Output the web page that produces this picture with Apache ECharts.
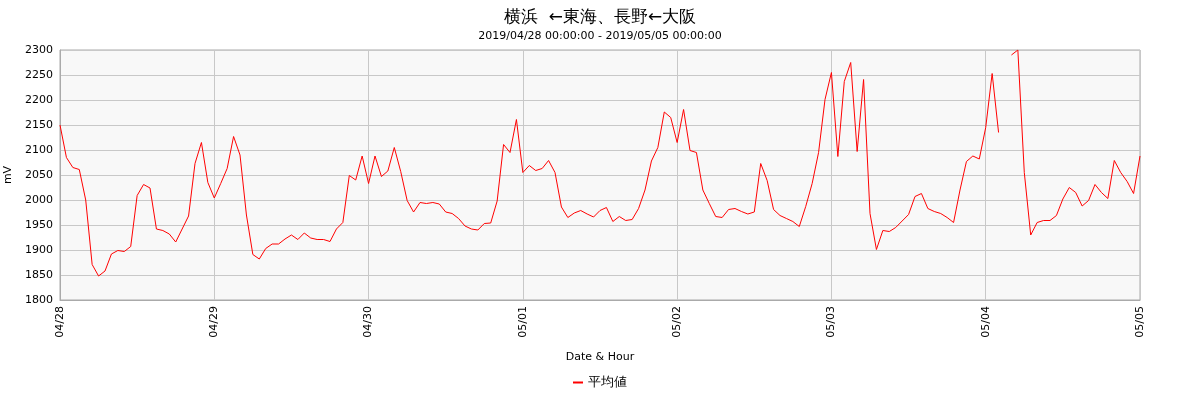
<!DOCTYPE html>
<html><head><meta charset="utf-8">
<script src="https://cdn.jsdelivr.net/npm/echarts@6/dist/echarts.min.js"></script>
<style>html,body{margin:0;padding:0;background:#fff}#c{width:1200px;height:400px}</style>
</head><body><div id="c"></div>
<script>
const days = ['04/28','04/29','04/30','05/01','05/02','05/03','05/04','05/05'];
const yTicks = [1800,1850,1900,1950,2000,2050,2100,2150,2200,2250,2300];
const d0428 = [2150,2085,2065,2061,2000,1871,1848,1858,1892,1899,1897,1907,2009,2031,2024,1942,1939,1932,1916,1942,1968,2073,2115,2035];
const d0429 = [2004,2033,2063,2127,2090,1970,1891,1882,1903,1912,1912,1922,1930,1921,1934,1924,1921,1921,1917,1942,1955,2049,2040,2088];
const d0430 = [2033,2088,2047,2058,2105,2057,1999,1976,1995,1993,1995,1992,1976,1973,1963,1948,1942,1940,1953,1954,1998,2111,2095,2161];
const d0501 = [2055,2069,2059,2063,2079,2055,1986,1965,1974,1979,1972,1966,1979,1985,1957,1967,1959,1961,1983,2020,2078,2105,2176,2165];
const d0502 = [2115,2181,2099,2095,2020,1993,1967,1965,1981,1983,1977,1972,1976,2073,2039,1981,1969,1963,1957,1947,1987,2033,2095,2201];
const d0503 = [2255,2087,2237,2275,2097,2241,1973,1901,1939,1937,1945,1958,1971,2007,2013,1983,1977,1973,1965,1955,2020,2077,2088,2082];
const d0504 = [2145,2253,2135,null,2290,2300,2055,1930,1955,1959,1959,1969,2002,2025,2015,1988,1999,2031,2015,2003,2079,2055,2037,2013];
const d0505 = [2088];
const dayData = [d0428,d0429,d0430,d0501,d0502,d0503,d0504,d0505];

const categories = [];
const values = [];
dayData.forEach((arr, di) => {
  arr.forEach((v, h) => {
    categories.push(days[di] + ' ' + String(h).padStart(2,'0'));
    values.push(v);
  });
});

const font = 'DejaVu Sans';
const chart = echarts.init(document.getElementById('c'));
chart.setOption({
  animation: false,
  backgroundColor: '#fff',
  title: {
    text: '横浜  ←東海、長野←大阪',
    subtext: '2019/04/28 00:00:00 - 2019/05/05 00:00:00',
    left: 'center', top: 4, itemGap: 5,
    textStyle: {fontFamily: font, fontSize: 17, fontWeight: 'normal', color: '#000'},
    subtextStyle: {fontFamily: font, fontSize: 11, color: '#000'}
  },
  legend: {
    bottom: 6, left: 'center',
    icon: 'rect', itemWidth: 10, itemHeight: 2, itemGap: 10,
    textStyle: {fontFamily: font, fontSize: 13, color: '#000'},
    data: ['平均値']
  },
  grid: {
    left: 60, right: 60, top: 50, bottom: 100,
    containLabel: false, outerBoundsMode: 'none',
    show: true, backgroundColor: '#f8f8f8', borderColor: '#aaa', borderWidth: 1
  },
  xAxis: {
    type: 'category', data: categories, boundaryGap: false,
    name: 'Date & Hour', nameLocation: 'middle', nameGap: 52,
    nameTextStyle: {fontFamily: font, fontSize: 11, color: '#000'},
    axisLine: {show: true, lineStyle: {color: '#aaa'}},
    axisTick: {show: false},
    axisLabel: {
      rotate: 90, fontFamily: font, fontSize: 11, color: '#000', margin: 6,
      interval: (i) => i % 24 === 0,
      formatter: (v) => v.split(' ')[0]
    },
    splitLine: {show: true, interval: (i) => i % 24 === 0, lineStyle: {color: '#c8c8c8', width: 1}}
  },
  yAxis: {
    type: 'value', min: yTicks[0], max: yTicks[yTicks.length-1], interval: 50,
    name: 'mV', nameLocation: 'middle', nameGap: 38, nameRotate: 90,
    nameTextStyle: {fontFamily: font, fontSize: 11, color: '#000'},
    axisLine: {show: true, lineStyle: {color: '#aaa'}},
    axisTick: {show: false},
    axisLabel: {fontFamily: font, fontSize: 11, color: '#000', margin: 7, formatter: (v) => String(v)},
    splitLine: {show: true, lineStyle: {color: '#c8c8c8', width: 1}}
  },
  series: [{
    name: '平均値', type: 'line', data: values,
    showSymbol: false, symbol: 'none', connectNulls: false,
    lineStyle: {color: '#ff0000', width: 1},
    itemStyle: {color: '#ff0000'}
  }]
});
</script></body></html>
